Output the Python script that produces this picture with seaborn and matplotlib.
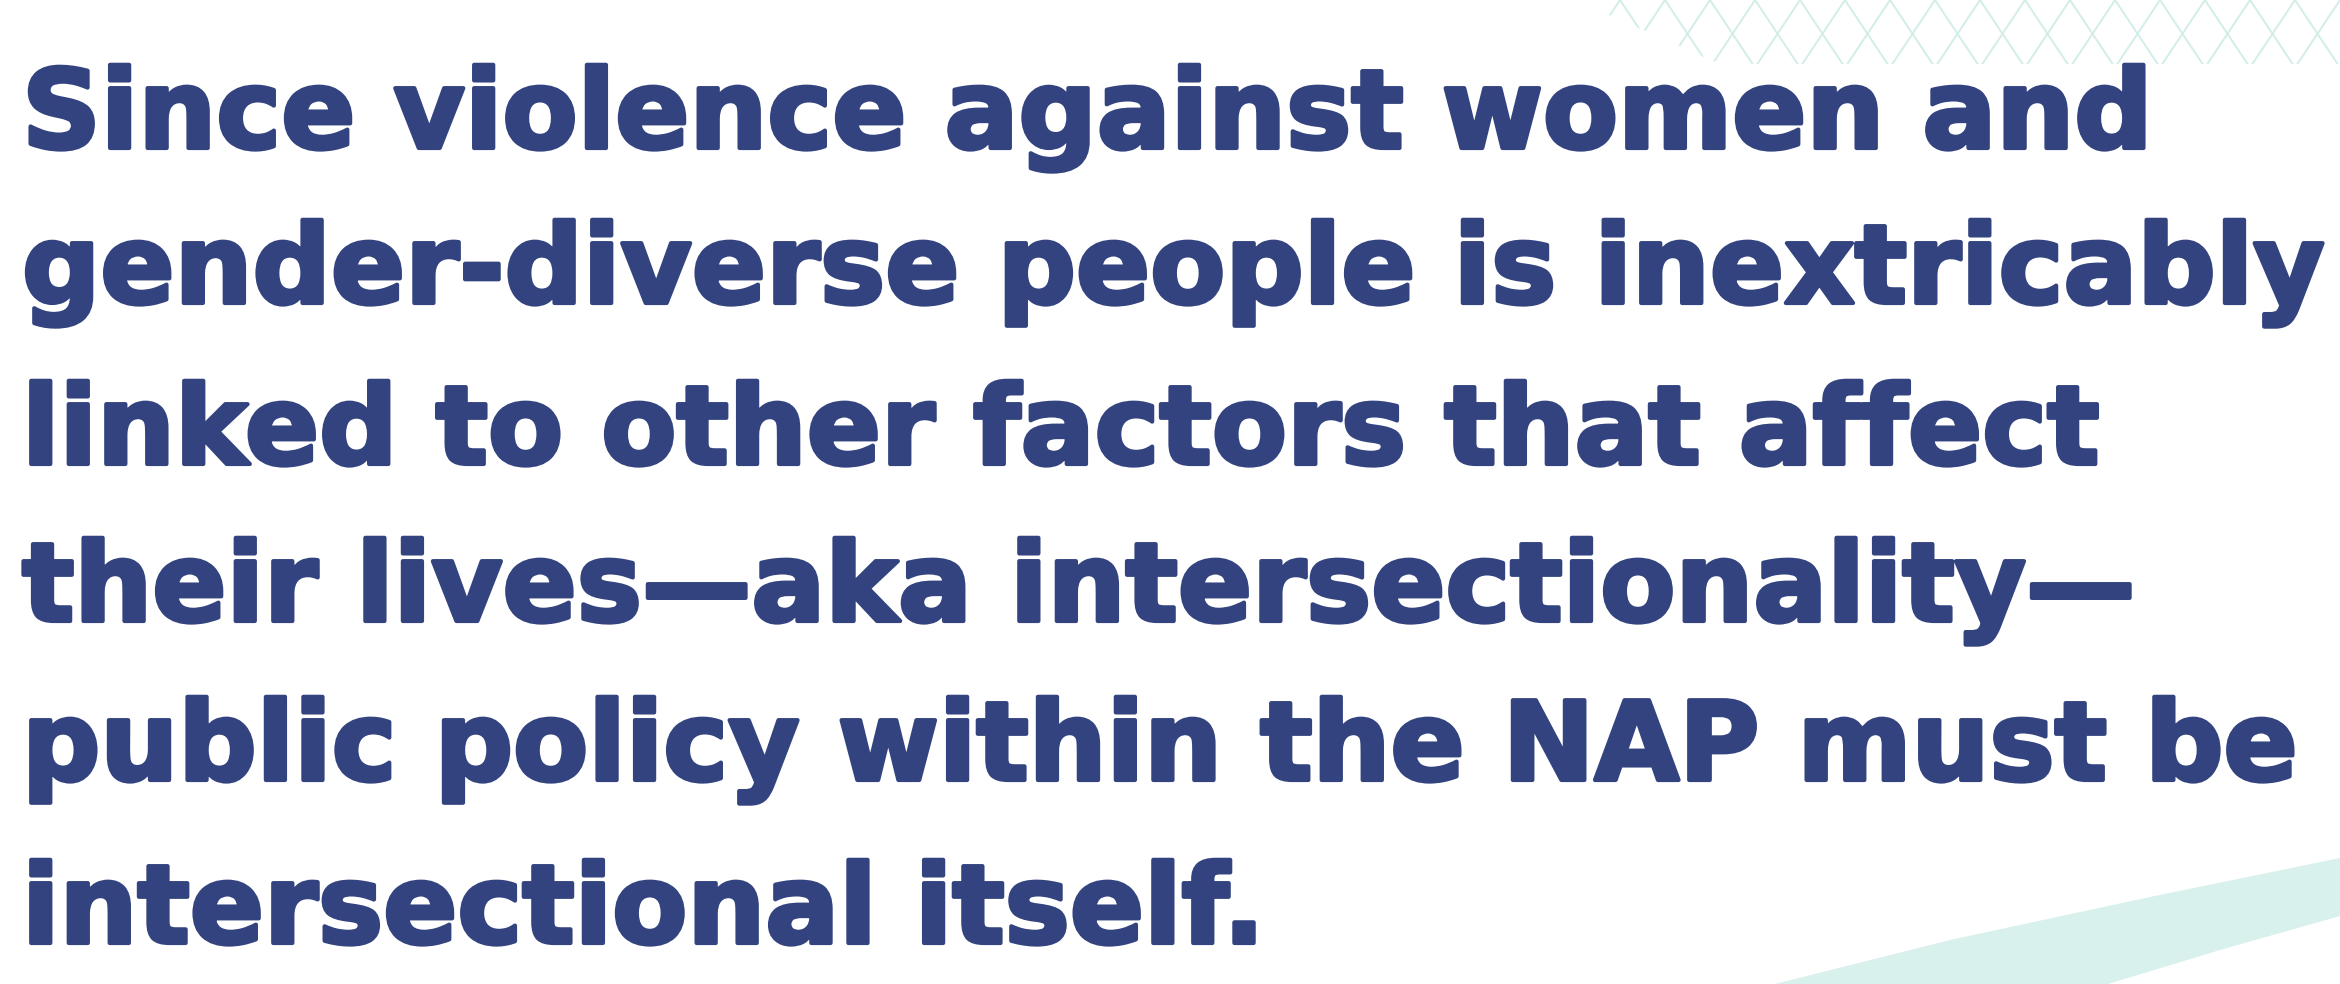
import numpy as np
import pandas as pd
import matplotlib
matplotlib.use("Agg")
import matplotlib.pyplot as plt
import matplotlib.patheffects as pe
import seaborn as sns
from matplotlib.patches import Polygon

# quote text, one entry per line, with baselines in pixels
lines = [
    "Since violence against women and",
    "gender-diverse people is inextricably",
    "linked to other factors that affect",
    "their lives\u2014aka intersectionality\u2014",
    "public policy within the NAP must be",
    "intersectional itself.",
]
baselines = [148, 303, 464, 621, 780, 943]
text_left = 22
line2_right = 2326

# hatch pattern, top right corner
hatch_x0 = np.arange(1440, 2480, 45)
hatch_slope = 1.5
hatch_clip_x = [1575, 2340, 2340, 1720]
hatch_clip_y = [0, 0, 64, 64]

# teal band, bottom right
band_top_x = [1775, 1950, 2150, 2340]
band_top_y = [984, 940, 897, 858]
band_bot_x = [2340, 2220, 2108]
band_bot_y = [916, 950, 984]

navy = "#33437f"
teal_line = "#d3ede9"
teal_fill = "#d8f1ec"

sns.set_theme(style="white")
plt.rcParams["font.family"] = ["DejaVu Sans"]

fig = plt.figure(figsize=(23.4, 9.84), dpi=100)
ax = fig.add_axes([0, 0, 1, 1])
ax.set_xlim(0, 2340)
ax.set_ylim(984, 0)
ax.axis("off")

# hatch lines as long-form data
rows = []
for i, x0 in enumerate(hatch_x0):
    for sgn in (1, -1):
        ys = np.array([-10, 80])
        xs = x0 + sgn * ys / hatch_slope
        for xx, yy in zip(xs, ys):
            rows.append({"x": xx, "y": yy, "id": f"{i}_{sgn}"})
hatch = pd.DataFrame(rows)
clip = Polygon(np.column_stack([hatch_clip_x, hatch_clip_y]), closed=True,
               transform=ax.transData, facecolor="none", edgecolor="none")
ax.add_patch(clip)
sns.lineplot(data=hatch, x="x", y="y", units="id", estimator=None, sort=False,
             color=teal_line, lw=1.4, ax=ax, legend=False)
for ln in ax.lines:
    ln.set_clip_path(clip)

# band
ax.fill(band_top_x + band_bot_x, band_top_y + band_bot_y,
        color=teal_fill, lw=0, zorder=1)

ax.set_xlim(0, 2340)
ax.set_ylim(984, 0)
ax.set_xlabel("")
ax.set_ylabel("")

# a thin outline in the same colour makes the bold face heavier
heavy = [pe.withStroke(linewidth=3, foreground=navy)]
texts = []
for s, y in zip(lines, baselines):
    texts.append(ax.text(text_left, y, s, color=navy, fontsize=80,
                         fontweight="bold", va="baseline", ha="left",
                         zorder=3, path_effects=heavy))

# fit size so that the second line spans the reference width
fig.canvas.draw()
r = fig.canvas.get_renderer()
w = texts[1].get_window_extent(r).width
size = 80 * (line2_right - text_left) / w
for t in texts:
    t.set_fontsize(size)

fig.savefig("out.png", dpi=100, facecolor="white")
